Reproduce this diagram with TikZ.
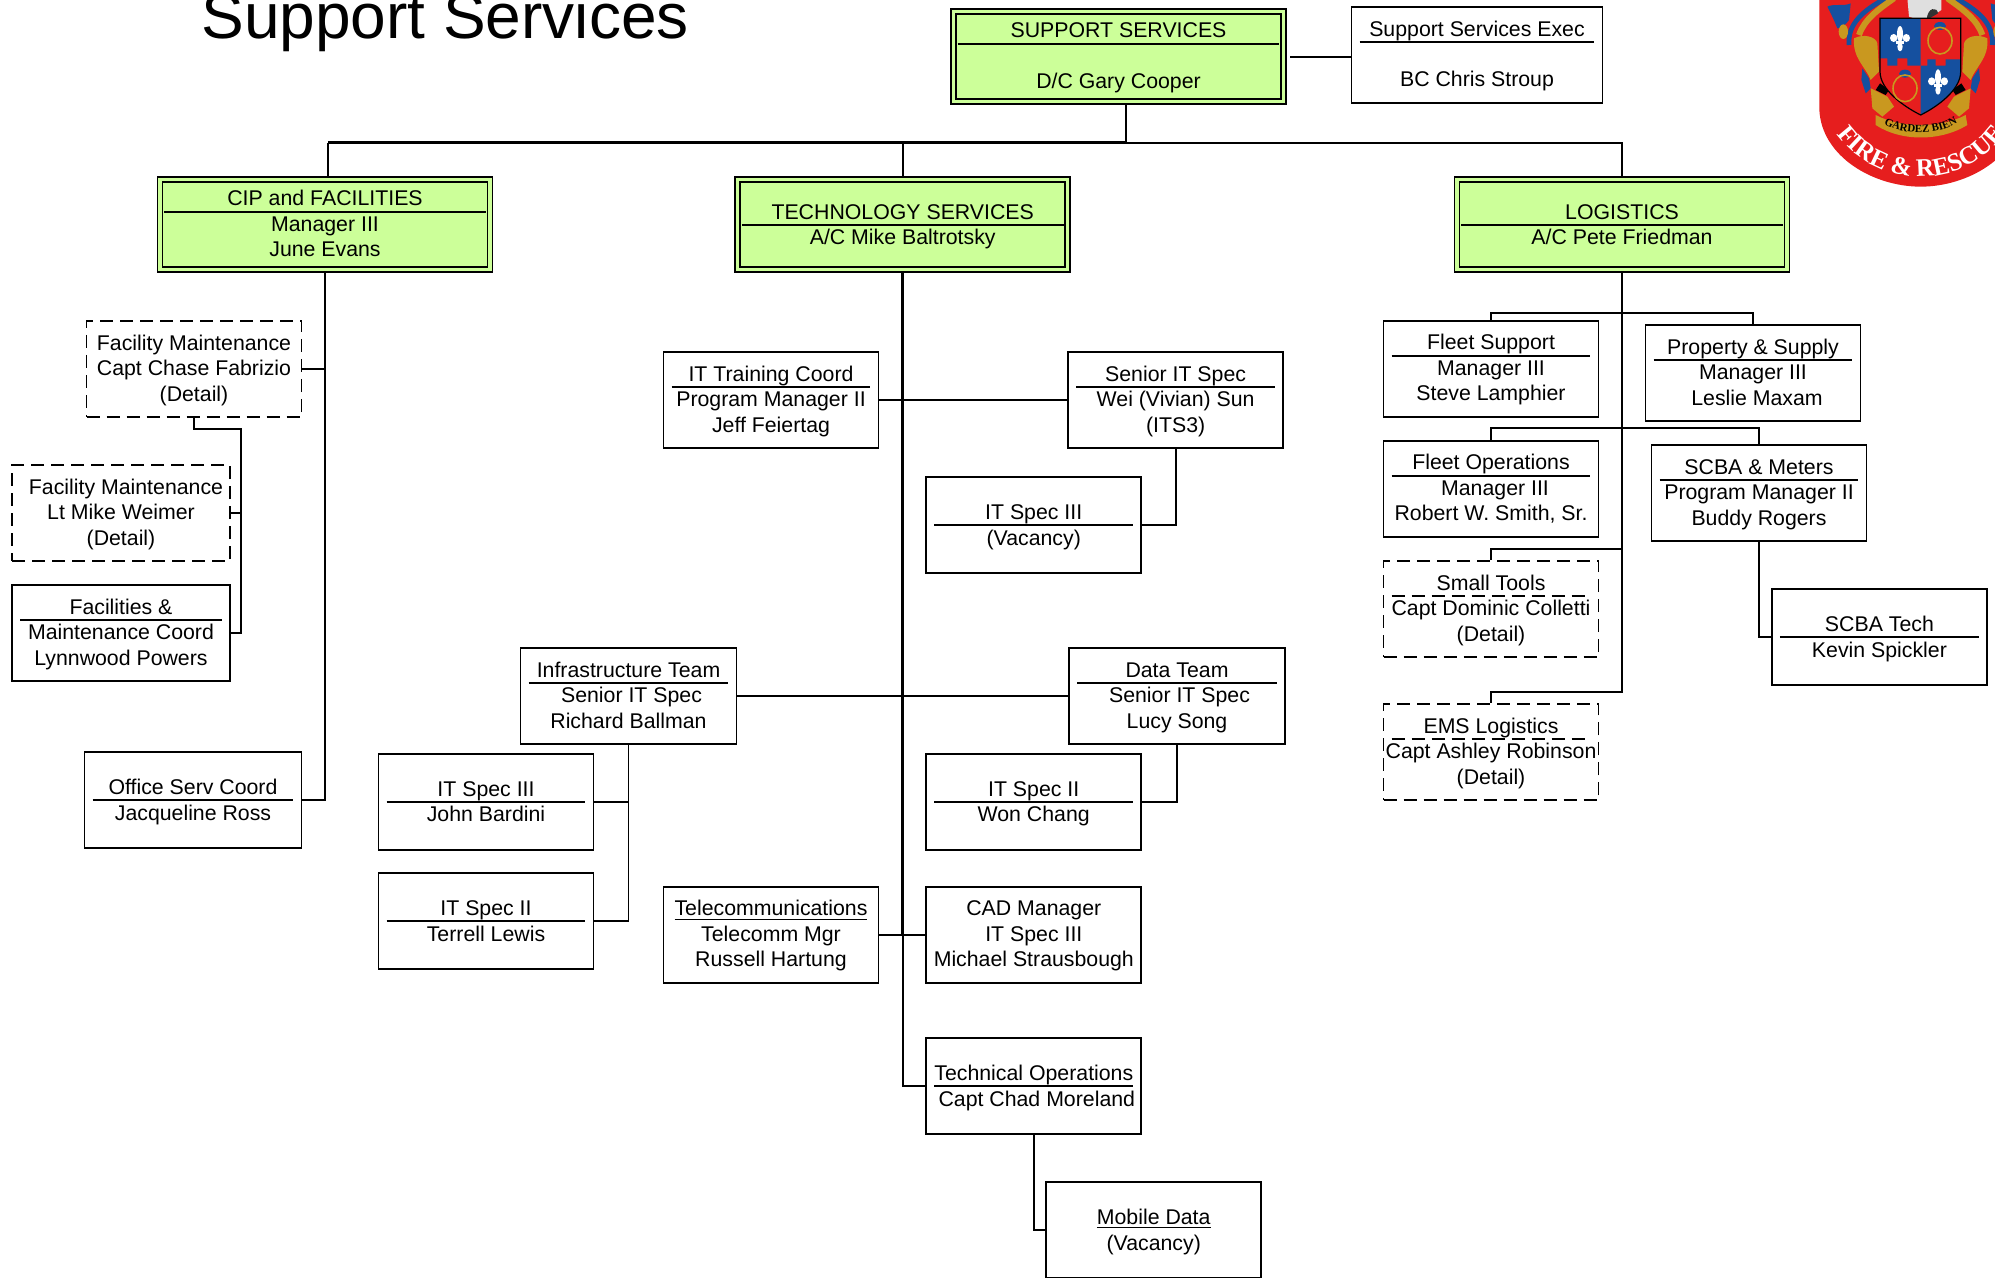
\documentclass[tikz,border=0pt]{standalone}
\usepackage{fontspec}
\setmainfont{Liberation Sans}
\newfontfamily\crestfont{Liberation Serif}[Scale=1]
\usetikzlibrary{backgrounds,decorations.text}
\definecolor{deptgreen}{HTML}{CCFF99}
\definecolor{crestred}{HTML}{E61E1E}
\definecolor{crestblue}{HTML}{15509F}
\definecolor{crestgold}{HTML}{C9981F}
\tikzset{
  orgbox/.style={draw, fill=white, line width=.95pt, inner sep=0pt, minimum width=107.5pt, minimum height=48pt,
    align=center, font=\fontsize{10.65}{12.7}\selectfont, text height=35.8pt, text depth=3.8pt},
  twoline/.style={text height=23.8pt},
  detailbox/.style={orgbox, dash pattern=on 6.5pt off 3.5pt},
  deptbox/.style={orgbox, fill=deptgreen, double=deptgreen, double distance=1.7pt, line width=.85pt,
    minimum width=165pt, minimum height=45pt},
  titlerule/.style={line width=.95pt},
  conn/.style={line width=.95pt},
  heavy/.style={line width=1.4pt}
}
\begin{document}
\begin{tikzpicture}[x=0.5pt,y=-0.5pt]
\path[use as bounding box, clip] (0,0) rectangle (1995,1278);

\node[anchor=base west, inner sep=0pt, font=\fontsize{32}{36}\selectfont] (pagetitle) at (201,39) {Support Services};

% top row
\node[deptbox] (ss) at (1118.5,56.7) {SUPPORT SERVICES\\[12.7pt]D/C Gary Cooper};
\node[orgbox, minimum width=125.5pt] (exec) at (1477,55) {Support Services Exec\\[12.7pt]BC Chris Stroup};
\node[deptbox] (cip) at (325,224.6) {CIP and FACILITIES\\Manager III\\June Evans};
\node[deptbox, twoline] (tech) at (902.7,224.6) {TECHNOLOGY SERVICES\\A/C Mike Baltrotsky};
\node[deptbox, twoline] (log) at (1622,224.6) {LOGISTICS\\A/C Pete Friedman};

% facilities
\node[detailbox] (fac1) at (194,369) {Facility Maintenance\\Capt Chase Fabrizio\\(Detail)};
\node[detailbox, minimum width=109pt] (fac2) at (121,513) {\hspace*{5pt}Facility Maintenance\\Lt Mike Weimer\\(Detail)};
\node[orgbox, minimum width=109pt] (facil) at (121,633) {Facilities \&\\Maintenance Coord\\Lynnwood Powers};
\node[orgbox, twoline, minimum width=108.5pt] (office) at (193,800) {Office Serv Coord\\Jacqueline Ross};

% technology
\node[orgbox] (itcoord) at (771,400) {IT Training Coord\\Program Manager II\\Jeff Feiertag};
\node[orgbox] (senior) at (1175.6,400) {Senior IT Spec\\Wei (Vivian) Sun\\(ITS3)};
\node[orgbox, twoline] (itvac) at (1033.7,525) {IT Spec III\\(Vacancy)};
\node[orgbox, minimum width=108pt] (infra) at (628.5,696) {Infrastructure Team\\\hspace*{3pt}Senior IT Spec\\Richard Ballman};
\node[orgbox, minimum width=108pt] (data) at (1177,696) {Data Team\\\hspace*{2.5pt}Senior IT Spec\\Lucy Song};
\node[orgbox, twoline] (bardini) at (486,801.6) {IT Spec III\\John Bardini};
\node[orgbox, twoline] (lewis) at (486,921) {IT Spec II\\Terrell Lewis};
\node[orgbox, twoline] (chang) at (1033.7,801.6) {IT Spec II\\Won Chang};
\node[orgbox] (telecom) at (771,934.7) {\underline{Telecommunications}\\Telecomm Mgr\\Russell Hartung};
\node[orgbox] (cad) at (1033.8,934.7) {CAD Manager\\IT Spec III\\Michael Strausbough};
\node[orgbox, twoline] (techops) at (1033.8,1086.3) {Technical Operations\\\hspace*{3pt}Capt Chad Moreland};
\node[orgbox, twoline] (mobile) at (1153.7,1230) {\underline{Mobile Data}\\(Vacancy)};

% logistics
\node[orgbox] (fleetsup) at (1491,368.7) {Fleet Support\\Manager III\\Steve Lamphier};
\node[orgbox] (prop) at (1753,373) {Property \& Supply\\Manager III\\\hspace*{4pt}Leslie Maxam};
\node[orgbox] (fleetops) at (1491,488.7) {Fleet Operations\\\hspace*{4pt}Manager III\\Robert W. Smith, Sr.};
\node[orgbox] (scba) at (1759,493) {SCBA \& Meters\\Program Manager II\\Buddy Rogers};
\node[detailbox] (tools) at (1491,609) {Small Tools\\Capt Dominic Colletti\\(Detail)};
\node[detailbox] (ems) at (1491,752.3) {EMS Logistics\\Capt Ashley Robinson\\(Detail)};
\node[orgbox, twoline] (scbatech) at (1879.4,637) {SCBA Tech\\Kevin Spickler};

% title rules
\foreach \n/\o in {ss/-13,cip/-13,tech/0,log/0}
  \draw[titlerule] ([shift={(5,\o)}]\n.west) -- ([shift={(-5,\o)}]\n.east);
\foreach \n/\o in {exec/-13,facil/-13,office/0,itcoord/-13,senior/-13,itvac/0,infra/-13,data/-13,bardini/0,lewis/0,chang/0,techops/0,fleetsup/-13,prop/-13,fleetops/-13,scba/-13,scbatech/0}
  \draw[titlerule] ([shift={(9,\o)}]\n.west) -- ([shift={(-9,\o)}]\n.east);
\foreach \n in {tools,ems}
  \draw[titlerule, dash pattern=on 6.5pt off 3.5pt] ([shift={(9,-13)}]\n.west) -- ([shift={(-9,-13)}]\n.east);

\coordinate (bus) at (1126,142.7);
\coordinate (cipdrop) at (328,142.7);
\coordinate (faccol) at (241,429);
\coordinate (bp) at (1622,313.3);
\coordinate (bq) at (1622,428);
\coordinate (bs) at (1622,548.7);
\coordinate (be) at (1622,692.3);

% connectors
\begin{scope}[on background layer]
\draw[conn] (ss.south -| bus) -- (bus);
\draw[heavy] (bus) -- ++(0,-13);
\draw[conn, shorten <=3pt] (ss.east) -- (ss.east -| exec.west);
\draw[conn] (cipdrop) -- (cipdrop |- cip.north);
\draw[heavy] (cipdrop) -- (bus);
\draw[conn] (bus) -| (log.north);
\draw[conn] (tech.north) -- (tech.north |- bus);

\draw[conn] (cip.south) |- (office.east);
\draw[conn] (fac1.east) -- (fac1.east -| cip.south);
\draw[conn] (fac1.south) |- (faccol) |- (facil.east);
\draw[conn] (fac2.east) -- (fac2.east -| faccol);

\draw[heavy] (tech.south) -- (tech.south |- cad.west);
\draw[conn] (tech.south |- cad.west) |- (techops.west);
\draw[conn] (itcoord.east) -- (senior.west);
\draw[conn] (senior.south) |- (itvac.east);
\draw[conn] (infra.east) -- (data.west);
\draw[conn] (infra.south) |- (bardini.east);
\draw[conn] (infra.south) |- (lewis.east);
\draw[conn] (data.south) |- (chang.east);
\draw[conn] (telecom.east) -- (cad.west);
\draw[conn] (techops.south) |- (mobile.west);

\draw[conn] (log.south) -- (be) -| (ems.north);
\draw[conn] (fleetsup.north) |- (bp) -| (prop.north);
\draw[conn] (fleetops.north) |- (bq) -| (scba.north);
\draw[conn] (tools.north) |- (bs);
\draw[conn] (scba.south) |- (scbatech.west);
\end{scope}

% crest
\begin{scope}[shift={(1750,0)},scale=1/3]
\fill[crestred] (208,-10) -- (208,330) .. controls (215,470) and (370,560) .. (512,560)
  .. controls (654,560) and (809,470) .. (816,330) -- (816,-10) -- cycle;
\begin{scope}[shift={(512,0)}]
\foreach \s in {1,-1} {
  \begin{scope}[xscale=\s]
  \fill[crestblue] (-280,20) .. controls (-260,10) and (-230,20) .. (-210,10) -- (-215,60)
    .. controls (-225,75) and (-240,85) .. (-250,85) .. controls (-262,55) and (-270,40) .. (-280,20) -- cycle;
  \draw[crestblue, line width=2.4pt] (-105,-5) .. controls (-170,30) and (-220,70) .. (-215,135);
  \draw[crestgold, line width=3pt] (-80,-5) .. controls (-130,30) and (-170,60) .. (-185,105);
  \fill[crestgold] (-200,115) .. controls (-170,100) and (-135,110) .. (-130,130) -- (-125,215) -- (-150,240)
    .. controls (-165,200) and (-205,175) .. (-200,115) -- cycle;
  \fill[crestgold] (-232,95) ellipse (14 and 22);
  \fill[crestblue] (-175,205) -- (-155,235) -- (-150,265) -- (-165,280) -- (-178,240) -- cycle;
  \fill[crestgold] (-150,265) -- (-100,290) -- (-80,320) -- (-115,350) -- (-145,325) -- cycle;
  \fill[black] (-122,250) -- (-95,270) -- (-105,285) -- (-135,270) -- cycle;
  \end{scope}
}
\fill[gray!25] (-40,-5) -- (-35,50) -- (10,65) -- (62,30) -- (62,-5) -- cycle;
\fill[black!80] (18,60) .. controls (20,20) and (50,20) .. (52,40) -- cycle;
% arms
\fill[crestred] (-122,55) -- (120,55) -- (120,215) .. controls (120,270) and (50,320) .. (0,345)
  .. controls (-50,320) and (-122,270) .. (-122,215) -- cycle;
\fill[crestblue] (-122,55) -- (0,55) -- (0,197) -- (-40,197) -- (-40,175) -- (-70,175) -- (-70,197)
  -- (-100,197) -- (-100,175) -- (-122,175) -- cycle;
\fill[crestblue] (0,197) -- (20,197) -- (20,178) -- (45,178) -- (45,197) -- (75,197) -- (75,178) -- (120,178)
  -- (120,215) .. controls (120,270) and (50,320) .. (0,345) -- cycle;
\draw[black, line width=.6pt] (-122,55) -- (120,55) -- (120,215) .. controls (120,270) and (50,320) .. (0,345)
  .. controls (-50,320) and (-122,270) .. (-122,215) -- cycle;
\foreach \fx/\fy in {-62/120,52/250} {
  \fill[white] (\fx,\fy-18) ellipse (9 and 24);
  \fill[white] (\fx-19,\fy-6) ellipse (11 and 12);
  \fill[white] (\fx+19,\fy-6) ellipse (11 and 12);
  \fill[white] (\fx-13,\fy+2) rectangle (\fx+13,\fy+11);
  \fill[white] (\fx,\fy+20) ellipse (8 and 14);
}
\foreach \rx/\ry in {58/122,-47/265} {
  \fill[crestblue] (\rx,\ry-44) ellipse (18 and 12);
  \draw[crestgold, line width=.8pt] (\rx,\ry) ellipse (36 and 40);
}
% motto
\fill[crestgold] (-135,345) .. controls (-60,385) and (60,385) .. (135,345) -- (140,375)
  .. controls (60,425) and (-60,425) .. (-135,375) -- cycle;
\path[decorate, decoration={text along path, text align=center,
  text={|\crestfont\bfseries\fontsize{5.5}{6}\selectfont|GARDEZ BIEN}}]
  (-125,362) .. controls (-60,410) and (60,410) .. (125,358);
\path[decorate, decoration={text along path, text align=center,
  text={|\crestfont\bfseries\fontsize{12.6}{14}\selectfont\color{white}|FIRE {\&} RESCUE}}]
  (-257,395) .. controls (-192,490) and (-92,530) .. (0,530) .. controls (92,530) and (192,490) .. (257,395);
\end{scope}
\end{scope}
\end{tikzpicture}
\end{document}
